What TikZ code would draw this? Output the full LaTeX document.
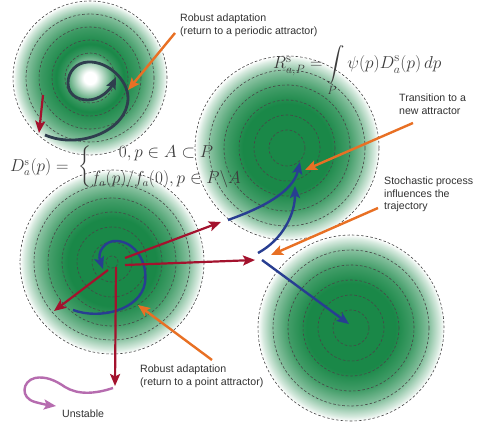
\documentclass[tikz,border=0pt]{standalone}
\usepackage{fontspec}
\newfontfamily\labfont{Liberation Sans}
\usepackage{amsmath}
\usetikzlibrary{arrows.meta}
\definecolor{gC}{RGB}{26,136,72}
\definecolor{redA}{RGB}{163,18,45}
\definecolor{blueA}{RGB}{40,62,145}
\definecolor{darkA}{RGB}{47,62,78}
\definecolor{orangeA}{RGB}{232,112,36}
\definecolor{purpA}{RGB}{182,108,175}
\definecolor{txt}{RGB}{50,50,50}
\definecolor{mathc}{RGB}{60,60,60}
\pgfdeclareradialshading{basinG}{\pgfpoint{0bp}{0bp}}{color(0bp)=(gC); color(12bp)=(gC); color(17bp)=(gC!82); color(21bp)=(gC!52); color(23.8bp)=(gC!18); color(25bp)=(white); color(50bp)=(white)}
\pgfdeclareradialshading{basinW}{\pgfpoint{0bp}{0bp}}{color(0bp)=(white); color(2bp)=(white); color(8bp)=(gC!85); color(11bp)=(gC); color(16bp)=(gC!85); color(21bp)=(gC!52); color(23.8bp)=(gC!18); color(25bp)=(white); color(50bp)=(white)}
\tikzset{
  dashc/.style={draw=black!72, line width=0.6pt, dash pattern=on 2.6pt off 2pt},
  tipA/.tip={Stealth[length=12pt,width=10pt,inset=2.5pt]},
  redarr/.style={draw=redA, line width=2.2pt, -tipA},
  bluearr/.style={draw=blueA, line width=2.4pt, -tipA},
  orarr/.style={draw=orangeA, line width=2.4pt, -tipA},
  darkarr/.style={draw=darkA, line width=2.8pt, -tipA},
  purarr/.style={draw=purpA, line width=2.4pt, -tipA},
  lab/.style={font=\labfont\fontsize{10.6}{12.2}\selectfont, text=txt, align=left, inner sep=0pt},
  mathlab/.style={text=mathc, inner sep=0pt}
}
\begin{document}
\begin{tikzpicture}[x=1pt,y=-1pt]
\useasboundingbox (0,0) rectangle (480,425);
\fill[white] (0,0) rectangle (480,425);
% basin centres
\coordinate (c1) at (90,78);
\coordinate (c2) at (287,148);
\coordinate (c3) at (112,262);
\coordinate (c4) at (351,328);
% shaded basins
\shade[shading=basinW] (c1) circle (77pt);
\shade[shading=basinG] (c2) circle (92pt);
\shade[shading=basinG] (c3) circle (92pt);
\shade[shading=basinG] (c4) circle (93pt);
% dashed contours
\foreach \r in {25,38,51,64,77} \draw[dashc] (c1) circle (\r pt);
\foreach \r in {18,33,48,63,78,92} \draw[dashc] (c2) circle (\r pt);
\foreach \r in {6,20,35,50,64,78,92} \draw[dashc] (c3) circle (\r pt);
\foreach \r in {18,33,48,63,78,93} \draw[dashc] (c4) circle (\r pt);
% formulas
\node[mathlab, anchor=west] (Dform) at (10,167) {\fontsize{16}{19}\selectfont $D^{\mathrm{s}}_a(p) = \;\left\{\begin{array}{@{}c@{}} 0, p\in A\subset P\\[7pt] f_a(p)/f_a(0), p\in P\backslash A\end{array}\right.$};
\node[mathlab, anchor=base west] (Rform) at (273,69) {\fontsize{18.3}{22}\selectfont $R^{\mathrm{s}}_{a,P} = \displaystyle\int\limits_P \psi(p) D^{\mathrm{s}}_a(p)\,dp$};
% labels
\node[lab, anchor=north west] (L1) at (180,14) {Robust adaptation\\(return to a periodic attractor)};
\node[lab, anchor=north west] (L2) at (399,94) {Transition to a\\new attractor};
\node[lab, anchor=north west] (L3) at (384,177) {Stochastic process\\influences the\\trajectory};
\node[lab, anchor=north west] (L4) at (140,365) {Robust adaptation\\(return to a point attractor)};
\node[lab, anchor=west] (L5) at (62,414) {Unstable};
% ---- top-left basin
\coordinate (sp0) at (45,135);
\coordinate (sp1) at (128,98);
\coordinate (sp2) at (88,62);
\coordinate (sp3) at (68,83);
\coordinate (sp4) at (88,100);
\coordinate (sp5) at (116,77);
\draw[darkarr] (sp0) .. controls (80,150) and (128,130) .. (sp1)
  .. controls (128,80) and (108,61) .. (sp2)
  .. controls (76,62.6) and (68,72) .. (sp3)
  .. controls (68,95) and (78,100) .. (sp4)
  .. controls (100,100) and (110,90) .. (sp5);
\coordinate (r0) at (43,95);
\coordinate (r1) at (39,133);
\draw[redarr] (r0) -- (r1);
\coordinate (o1s) at (175,33);
\coordinate (o1e) at (128,90);
\draw[orarr] (o1s) -- (o1e);
% ---- top-right basin
\coordinate (bA0) at (228,220);
\coordinate (bA1) at (300,162);
\coordinate (bB0) at (258,253);
\coordinate (bB1) at (295,186);
\coordinate (bC0) at (262,260);
\coordinate (bC1) at (349,324);
\draw[bluearr] (bA0) .. controls (262,208) and (293,192) .. (bA1);
\draw[bluearr] (bB0) .. controls (282,240) and (295,215) .. (bB1);
\draw[bluearr] (bC0) -- (bC1);
\coordinate (o2s) at (413,123);
\coordinate (o2e) at (305,170);
\draw[orarr] (o2s) -- (o2e);
\coordinate (o3s) at (378,208);
\coordinate (o3e) at (271,255);
\draw[orarr] (o3s) -- (o3e);
% ---- bottom-left basin
\coordinate (lp0) at (73,310);
\coordinate (lp1) at (145,283);
\coordinate (lp2) at (117,241);
\coordinate (lp3) at (103,269);
\draw[bluearr] (lp0) .. controls (100,320) and (140,310) .. (lp1)
  .. controls (148,262) and (135,242) .. (lp2)
  .. controls (105,240) and (97,252) .. (lp3);
\coordinate (ra0) at (125,258);
\coordinate (ra1) at (221,222);
\coordinate (rb0) at (125,265);
\coordinate (rb1) at (255,260);
\coordinate (rc0) at (108,270);
\coordinate (rc1) at (54,311);
\coordinate (rd0) at (116,267);
\coordinate (rd1) at (115,386);
\draw[redarr] (ra0) -- (ra1);
\draw[redarr] (rb0) -- (rb1);
\draw[redarr] (rc0) -- (rc1);
\draw[redarr] (rd0) -- (rd1);
\coordinate (o4s) at (212,360);
\coordinate (o4e) at (138,305);
\draw[orarr] (o4s) -- (o4e);
% ---- unstable
\coordinate (u0) at (113,388);
\coordinate (u1) at (56,406);
\draw[purarr] (u0) .. controls (95,394) and (78,395) .. (65,387)
  .. controls (55,380) and (45,376) .. (35,378)
  .. controls (22,381) and (20,398) .. (35,402)
  .. controls (42,404) and (48,405) .. (u1);
\end{tikzpicture}
\end{document}
